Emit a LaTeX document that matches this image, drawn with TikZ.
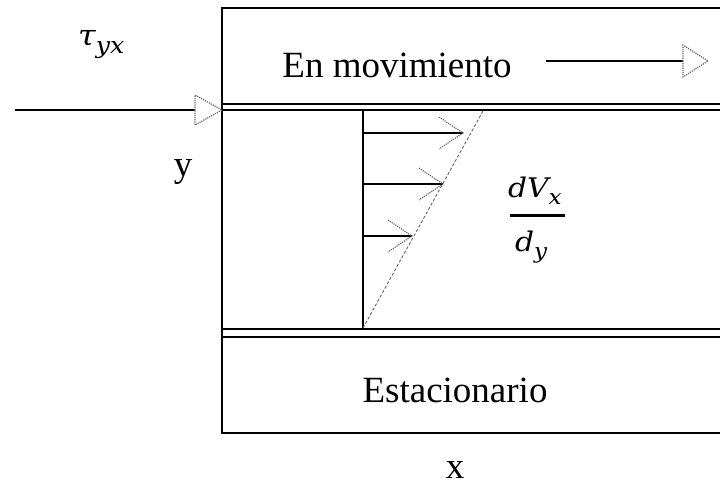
\documentclass[tikz,border=0pt]{standalone}
\usepackage{fontspec}
\setmainfont{Liberation Serif}
\newfontfamily\mathitfont{DejaVu Serif}[ItalicFont={DejaVu Serif Italic}]
\newcommand{\mfs}[2]{\fontsize{#1}{#1}\selectfont #2}
\newcommand{\wide}[1]{\scalebox{1.1}[1]{#1}}
\begin{document}
\begin{tikzpicture}[x=1pt,y=-1pt,
  wall/.style={line width=1.6pt,black},
  shaft/.style={line width=1.4pt,black},
  tipline/.style={line width=1.2pt,black!60,densely dotted},
  profile/.style={line width=0.9pt,black!60,densely dashed},
  lbl/.style={inner sep=0pt,font=\fontsize{37}{40}\selectfont},
  mlbl/.style={inner sep=0pt,anchor=base west,font=\mathitfont\itshape}]
\useasboundingbox (0,0) rectangle (720,493);
\clip (0,0) rectangle (720,493);
% walls
\coordinate (tl) at (222,8);
\coordinate (tr) at (725,8);
\coordinate (bl) at (222,433);
\coordinate (br) at (725,433);
\draw[wall] (tr) -- (tl) -- (bl) -- (br);
\coordinate (p1l) at (222,104); \coordinate (p1r) at (725,104);
\coordinate (p2l) at (222,110); \coordinate (p2r) at (725,110);
\coordinate (p3l) at (222,329); \coordinate (p3r) at (725,329);
\coordinate (p4l) at (222,337); \coordinate (p4r) at (725,337);
\draw[wall] (p1l) -- (p1r);
\draw[wall] (p2l) -- (p2r);
\draw[wall] (p3l) -- (p3r);
\draw[wall] (p4l) -- (p4r);
% labels
\node[mlbl] (tau) at (78,45) {\wide{\mfs{29}{τ}\raisebox{-8pt}{\mfs{23}{yx}}}};
\node[lbl] (ylab) at (183,172) {y};
\node[lbl] (mov) at (397,65) {En movimiento};
\node[lbl] (est) at (455,390) {Estacionario};
\node[lbl] (xlab) at (455,470) {x};
\node[mlbl] (num) at (508,197) {\wide{\mfs{27}{dV}\raisebox{-7pt}{\mfs{21}{x}}}};
\coordinate (barl) at (510,215);
\coordinate (barr) at (565,215);
\draw[line width=3pt] (barl) -- (barr);
\node[mlbl] (den) at (515,251) {\wide{\mfs{27}{d}\raisebox{-7pt}{\mfs{21}{y}}}};
% left shear arrow
\coordinate (sa) at (15,110);
\coordinate (sb) at (195,110);
\coordinate (st) at (222,110);
\draw[shaft] (sa) -- (sb);
\draw[tipline] (sb) -- ++(0,-15) -- (st) -- (195,125) -- cycle;
% moving plate arrow
\coordinate (ma) at (546,61);
\coordinate (mb) at (683,61);
\coordinate (mt) at (708,61);
\draw[shaft] (ma) -- (mb);
\draw[tipline] (mb) -- ++(0,-16) -- (mt) -- (683,77) -- cycle;
% velocity profile
\coordinate (v0) at (363,111);
\coordinate (v1) at (363,328);
\coordinate (d1) at (483,111);
\draw[shaft] (v0) -- (v1);
\draw[profile] (v1) -- (d1);
\foreach \yy/\xx in {133/463,184/443,236/412}{
  \draw[shaft] (363,\yy) -- (\xx,\yy);
  \draw[tipline] (\xx-24,\yy-16) -- (\xx,\yy) -- (\xx-24,\yy+16);
}
\end{tikzpicture}
\end{document}
